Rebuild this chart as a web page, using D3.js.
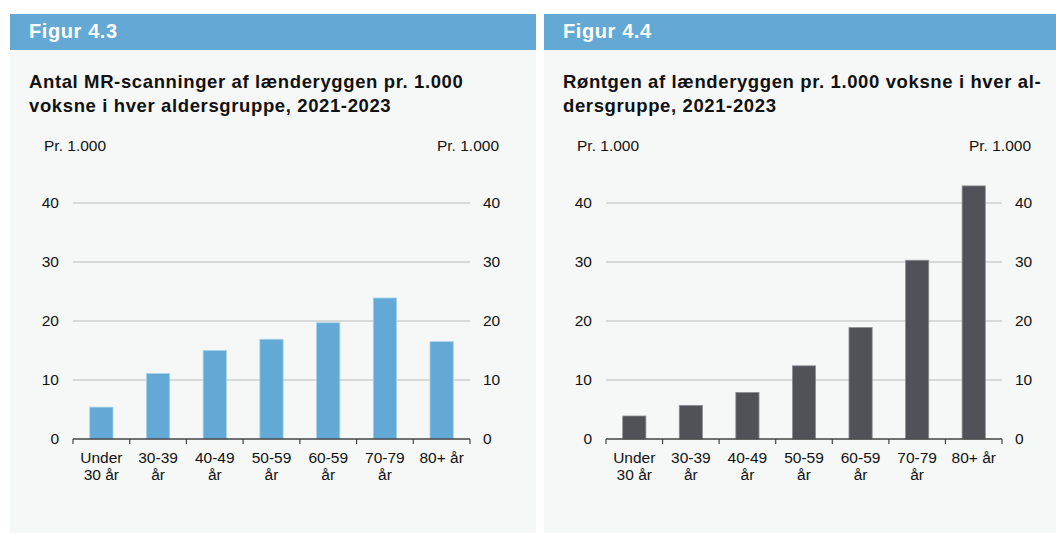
<!DOCTYPE html>
<html>
<head>
<meta charset="utf-8">
<script src="https://cdn.jsdelivr.net/npm/d3@7"></script>
<style>
  body { margin: 0; background: #ffffff; }
  svg { display: block; font-family: "Liberation Sans", Arial, sans-serif; }
</style>
</head>
<body>
<svg id="chart" width="1056" height="534"></svg>
<script>
// age groups (shared by both figures)
var ageGroups = ["Under 30 år", "30-39 år", "40-49 år", "50-59 år", "60-59 år", "70-79 år", "80+ år"];
// labels are split on two lines like the original
var ageLines = [["Under", "30 år"], ["30-39", "år"], ["40-49", "år"], ["50-59", "år"], ["60-59", "år"], ["70-79", "år"], ["80+ år"]];

// values per 1.000 adults
var mrValues = [5.4, 11.1, 15.0, 16.9, 19.7, 23.9, 16.5];
var xrayValues = [3.9, 5.7, 7.9, 12.4, 18.9, 30.3, 42.9];

var yTicks = [0, 10, 20, 30, 40];
var unitLabel = "Pr. 1.000";

var svg = d3.select("#chart");

// panel: header bar + grey body + title + chart
function panel(opts) {
	var g = svg.append("g");

	g.append("rect")
		.attr("x", opts.x).attr("y", 50)
		.attr("width", opts.w).attr("height", 483)
		.attr("fill", "#f6f8f8");

	g.append("rect")
		.attr("x", opts.x).attr("y", 14)
		.attr("width", opts.w).attr("height", 36)
		.attr("fill", "#64a9d5");

	g.append("text")
		.attr("x", opts.x + 19).attr("y", 38)
		.attr("fill", "#ffffff")
		.style("font-size", "20px")
		.style("font-weight", "bold")
		.style("letter-spacing", "0.6px")
		.text(opts.fig);

	g.selectAll(".title")
		.data(opts.title)
		.join("text")
		.attr("x", opts.x + 19)
		.attr("y", function(d, i) { return 88 + i * 24; })
		.attr("fill", "#111111")
		.style("font-size", "18.5px")
		.style("font-weight", "bold")
		.style("letter-spacing", "0.62px")
		.text(function(d) { return d; });

	var x = d3.scaleBand()
		.domain(ageGroups)
		.range([opts.left, opts.right])
		.paddingInner(0.59)
		.paddingOuter(0.295);

	var y = d3.scaleLinear()
		.domain([0, 40])
		.range([439, 203]);

	// gridlines
	g.selectAll(".grid")
		.data(yTicks.filter(function(d) { return d > 0; }))
		.join("line")
		.attr("x1", opts.left).attr("x2", opts.right)
		.attr("y1", function(d) { return y(d); })
		.attr("y2", function(d) { return y(d); })
		.attr("stroke", "#b9bbbb")
		.attr("stroke-width", 1.2);

	// left and right value axes (labels only)
	var leftAxis = d3.axisLeft(y).tickValues(yTicks).tickSize(0).tickPadding(14);
	var rightAxis = d3.axisRight(y).tickValues(yTicks).tickSize(0).tickPadding(13);

	g.append("g")
		.attr("transform", "translate(" + opts.left + ",0)")
		.call(leftAxis)
		.call(function(a) { a.select(".domain").remove(); })
		.selectAll("text")
		.attr("fill", "#111111")
		.style("font-size", "15.5px")
		.style("font-family", "Liberation Sans, Arial, sans-serif");

	g.append("g")
		.attr("transform", "translate(" + opts.right + ",0)")
		.call(rightAxis)
		.call(function(a) { a.select(".domain").remove(); })
		.selectAll("text")
		.attr("fill", "#111111")
		.style("font-size", "15.5px")
		.style("font-family", "Liberation Sans, Arial, sans-serif");

	// unit labels
	g.append("text")
		.attr("x", opts.left - 29).attr("y", 151)
		.attr("fill", "#111111")
		.style("font-size", "15.5px")
		.text(unitLabel);

	g.append("text")
		.attr("x", opts.right + 29).attr("y", 151)
		.attr("text-anchor", "end")
		.attr("fill", "#111111")
		.style("font-size", "15.5px")
		.text(unitLabel);

	// bars
	g.selectAll(".bar")
		.data(opts.values)
		.join("rect")
		.attr("x", function(d, i) { return x(ageGroups[i]); })
		.attr("y", function(d) { return y(d); })
		.attr("width", x.bandwidth())
		.attr("height", function(d) { return y(0) - y(d); })
		.attr("fill", opts.color)
		.attr("stroke", opts.edge)
		.attr("stroke-width", 0.8);

	// baseline with ticks between categories
	var step = x.step();
	var boundaries = d3.range(ageGroups.length + 1).map(function(i) { return opts.left + i * step; });

	g.append("line")
		.attr("x1", opts.left).attr("x2", opts.right)
		.attr("y1", y(0)).attr("y2", y(0))
		.attr("stroke", "#444444")
		.attr("stroke-width", 1.5);

	g.selectAll(".tick-x")
		.data(boundaries)
		.join("line")
		.attr("x1", function(d) { return d; }).attr("x2", function(d) { return d; })
		.attr("y1", y(0)).attr("y2", y(0) + 5)
		.attr("stroke", "#444444")
		.attr("stroke-width", 1.2);

	// category labels
	var labels = g.selectAll(".xlab")
		.data(ageGroups)
		.join("text")
		.attr("text-anchor", "middle")
		.attr("fill", "#111111")
		.style("font-size", "15.5px")
		.attr("transform", function(d) { return "translate(" + (x(d) + x.bandwidth() / 2) + ",463)"; });

	labels.selectAll("tspan")
		.data(function(d, i) { return ageLines[i]; })
		.join("tspan")
		.attr("x", 0)
		.attr("y", function(d, i) { return i * 17; })
		.text(function(d) { return d; });
}

panel({
	x: 10, w: 526, left: 73, right: 470,
	fig: "Figur 4.3",
	title: ["Antal MR-scanninger af lænderyggen pr. 1.000", "voksne i hver aldersgruppe, 2021-2023"],
	values: mrValues,
	color: "#63a9d5", edge: "#a8d0ec"
});

panel({
	x: 544, w: 512, left: 606, right: 1002,
	fig: "Figur 4.4",
	title: ["Røntgen af lænderyggen pr. 1.000 voksne i hver al-", "dersgruppe, 2021-2023"],
	values: xrayValues,
	color: "#505257", edge: "#8e9093"
});
</script>
</body>
</html>
